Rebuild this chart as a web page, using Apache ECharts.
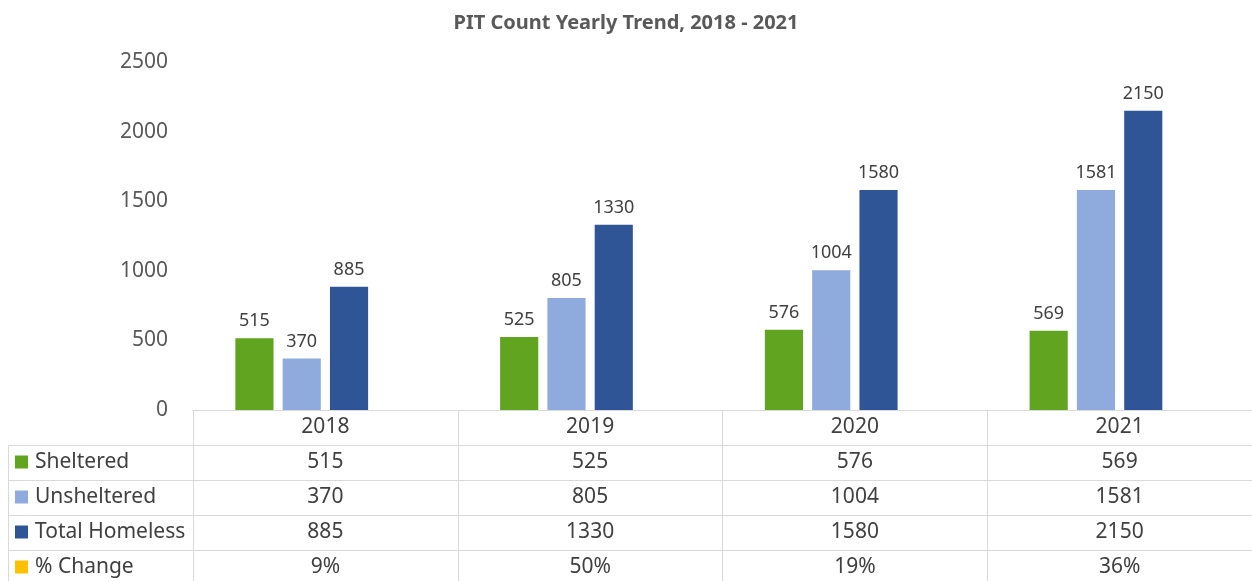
<!DOCTYPE html>
<html>
<head>
<meta charset="utf-8">
<script src="https://cdn.jsdelivr.net/npm/echarts@6/dist/echarts.min.js"></script>
<style>
  html, body { margin: 0; padding: 0; background: #fff; }
  #main { width: 1252px; height: 581px; }
</style>
</head>
<body>
<div id="main"></div>
<script>
// data
const years = ['2018', '2019', '2020', '2021'];
const sheltered = [515, 525, 576, 569];
const unsheltered = [370, 805, 1004, 1581];
const totalHomeless = [885, 1330, 1580, 2150];
const pctChange = [9, 50, 19, 36];
const yTicks = [0, 500, 1000, 1500, 2000, 2500];

const FONT = '"Noto Sans", sans-serif';
const GRID_COLOR = '#d9d9d9';
const ROW_H = 35;

const chart = echarts.init(document.getElementById('main'));

// each table row is an extra category axis pushed down by one row height
function tableAxis(rowData, k) {
  return {
    type: 'category',
    data: rowData,
    position: 'bottom',
    offset: k * ROW_H,
    axisLine: { show: true, lineStyle: { color: GRID_COLOR, width: 1 } },
    axisTick: { show: true, length: ROW_H, lineStyle: { color: GRID_COLOR, width: 1 } },
    axisLabel: { color: '#404040', fontSize: 21, fontFamily: FONT, margin: 7 },
    splitLine: { show: false }
  };
}

// left side of the data table (row header cells)
const tableLines = [];
for (let k = 1; k <= 4; k++) {
  tableLines.push({
    type: 'line',
    shape: { x1: 8, y1: 410.5 + k * ROW_H, x2: 193, y2: 410.5 + k * ROW_H },
    style: { stroke: GRID_COLOR, lineWidth: 1 }
  });
}
tableLines.push({
  type: 'line',
  shape: { x1: 8.5, y1: 445, x2: 8.5, y2: 581 },
  style: { stroke: GRID_COLOR, lineWidth: 1 }
});

const labelStyle = {
  show: true,
  position: 'top',
  distance: 8,
  color: '#404040',
  fontSize: 18,
  fontFamily: FONT
};

const option = {
  backgroundColor: '#fff',
  animation: false,
  title: {
    text: 'PIT Count Yearly Trend, 2018 - 2021',
    left: 'center',
    top: 8,
    textStyle: { color: '#595959', fontSize: 20, fontWeight: 'bold', fontFamily: FONT }
  },
  legend: {
    orient: 'vertical',
    left: 15,
    top: 451,
    padding: 0,
    icon: 'rect',
    itemWidth: 13,
    itemHeight: 13,
    itemGap: 13,
    selectedMode: false,
    textStyle: { color: '#404040', fontSize: 21, lineHeight: 22, fontFamily: FONT, padding: [0, 0, 0, 2] },
    data: ['Sheltered', 'Unsheltered', 'Total Homeless', '% Change']
  },
  grid: { left: 193, right: 0, top: 62, bottom: 171, containLabel: false },
  xAxis: [
    tableAxis(years, 0),
    tableAxis(sheltered.map(String), 1),
    tableAxis(unsheltered.map(String), 2),
    tableAxis(totalHomeless.map(String), 3),
    tableAxis(pctChange.map(v => v + '%'), 4)
  ],
  yAxis: {
    type: 'value',
    min: yTicks[0],
    max: yTicks[yTicks.length - 1],
    interval: yTicks[1] - yTicks[0],
    axisLine: { show: false },
    axisTick: { show: false },
    splitLine: { show: false },
    axisLabel: { color: '#595959', fontSize: 21, fontFamily: FONT, margin: 25, formatter: v => String(v) }
  },
  graphic: tableLines,
  series: [
    {
      name: 'Sheltered',
      type: 'bar',
      xAxisIndex: 0,
      data: sheltered,
      barCategoryGap: '32%',
      barGap: '24%',
      itemStyle: { color: '#61a420' },
      label: labelStyle
    },
    {
      name: 'Unsheltered',
      type: 'bar',
      xAxisIndex: 0,
      data: unsheltered,
      itemStyle: { color: '#8faadc' },
      label: labelStyle
    },
    {
      name: 'Total Homeless',
      type: 'bar',
      xAxisIndex: 0,
      data: totalHomeless,
      itemStyle: { color: '#2f5597' },
      label: labelStyle
    },
    {
      // plotted as a fraction, so the bar is flat but keeps its slot in the group
      name: '% Change',
      type: 'bar',
      xAxisIndex: 0,
      data: pctChange.map(v => v / 100),
      itemStyle: { color: '#ffc000' }
    }
  ]
};

chart.setOption(option);
</script>
</body>
</html>
